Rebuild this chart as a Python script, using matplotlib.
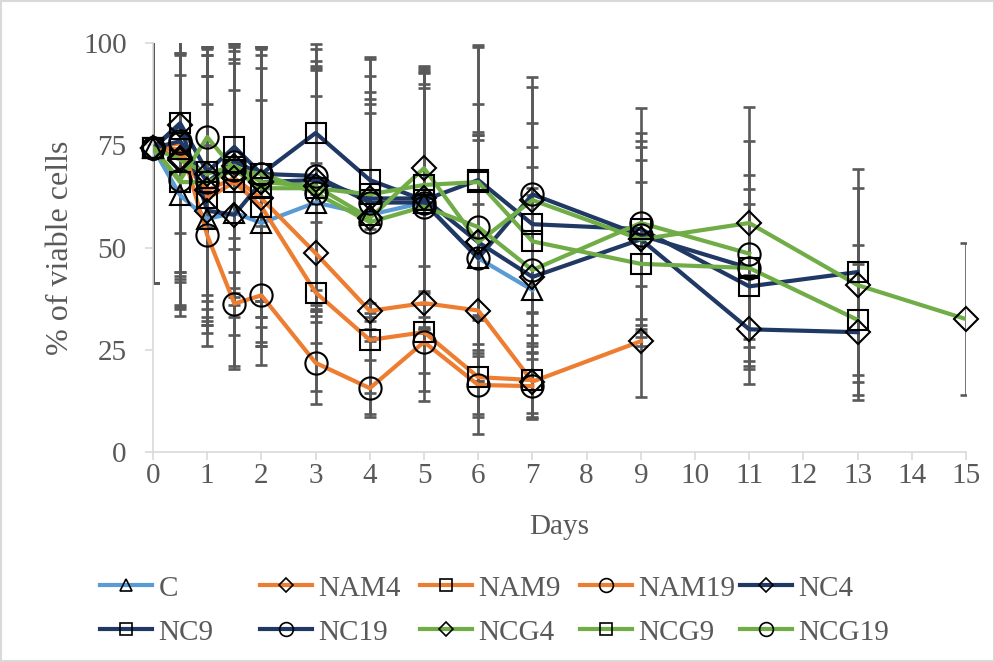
import numpy as np
import matplotlib
matplotlib.use("Agg")
import matplotlib.pyplot as plt
from matplotlib.lines import Line2D
from matplotlib.patches import Rectangle

plt.rcParams['font.family'] = ['Liberation Serif', 'DejaVu Serif']

days = [0, 0.5, 1, 1.5, 2, 3, 4, 5, 6, 7, 9, 11, 13, 15]

# mean % of viable cells, one list per treatment
C     = [74.3, 62.8, 57, 58.5, 56, 61, 58, 61, 47.4, 39.6]
NAM4  = [74.3, 72, 64, 67, 62, 48.6, 34.5, 36.4, 34.6, 17.2, 27.1]
NAM9  = [74.3, 74, 62, 66, 60, 39, 27.4, 29.3, 18.3, 17.6]
NAM19 = [74.3, 75.5, 53, 36.3, 38.3, 21.8, 15.6, 26.9, 16.4, 16.1]
NC4   = [74.3, 80, 59, 58, 66, 66.5, 62, 62, 51.3, 42.8, 52, 30, 29.3]
NC9   = [74.3, 80.4, 68.5, 74.6, 68, 78, 66.5, 61.6, 66.5, 55.7, 54.5, 40.5, 44]
NC19  = [74.3, 76, 66, 71, 68, 67.5, 61, 61, 47.4, 63, 53, 45]
NCG4  = [74.3, 71.5, 68, 70, 66, 65, 57.2, 69.4, 51.3, 61.6, 52, 56, 40.8, 32.5]
NCG9  = [74.3, 66, 66, 69, 64.5, 64.5, 63, 65.3, 66, 51.5, 46, 45, 32.3]
NCG19 = [74.3, 66.5, 77, 69, 68, 63.3, 56.2, 60, 55, 44.5, 56, 48.5]

# error bars (SD)
C_err     = [33, 29.5, 28, 30, 30, 26, 25, 28, 30, 30]
NAM4_err  = [33, 36, 33, 34, 35, 22, 20, 24, 26, 8.8, 13.6]
NAM9_err  = [33, 30, 30, 30, 34, 24, 18, 10, 14, 9]
NAM19_err = [33, 22, 22, 16, 17, 10, 7, 12, 7, 8]
NC4_err   = [33, 37, 33, 37, 33, 32, 30, 32, 25, 20, 22.6, 13.4, 16.6]
NC9_err   = [33, 38, 30, 25, 31, 21.8, 30, 31, 33, 24.7, 23.5, 20.1, 25.2]
NC19_err  = [33, 32, 33, 27, 31, 28, 27, 32, 30, 28.7, 23, 22.7]
NCG4_err  = [33, 30, 31, 30, 33, 29, 29, 24, 27, 27.6, 19.4, 28.3, 23.7, 18.5]
NCG9_err  = [33, 31, 31, 31, 34, 30, 33, 29, 33, 23, 20, 19.3, 18.3]
NCG19_err = [33, 31, 22, 30, 31, 30, 29, 30, 30, 20, 28, 27.5]

names = ['C', 'NAM4', 'NAM9', 'NAM19', 'NC4', 'NC9', 'NC19', 'NCG4', 'NCG9', 'NCG19']
values = [C, NAM4, NAM9, NAM19, NC4, NC9, NC19, NCG4, NCG9, NCG19]
errors = [C_err, NAM4_err, NAM9_err, NAM19_err, NC4_err, NC9_err, NC19_err,
          NCG4_err, NCG9_err, NCG19_err]

blue, orange, navy, green = '#5B9BD5', '#ED7D31', '#203864', '#70AD47'
colors = [blue, orange, orange, orange, navy, navy, navy, green, green, green]
markers = ['^', 'D', 's', 'o', 'D', 's', 'o', 'D', 's', 'o']
msizes = {'^': 15, 'D': 12, 's': 15, 'o': 16}
grey = '#595959'
fs = 21

fig = plt.figure(figsize=(9.95, 6.62), dpi=100)
ax = fig.add_axes([0.1538, 0.3172, 0.8171, 0.6178])

handles = []
for name, v, e, c, m in zip(names, values, errors, colors, markers):
    x = days[:len(v)]
    ax.errorbar(x, v, yerr=e, fmt='none', ecolor=grey, elinewidth=1.9,
                capsize=4.5, capthick=1.9, zorder=2)
    ax.plot(x, v, color=c, lw=3, zorder=3)
    ax.plot(x, v, ls='none', marker=m, ms=msizes[m], mfc='none', mec='black',
            mew=1.5, zorder=4, clip_on=False)
    handles.append(Line2D([], [], color=c, lw=3, marker=m, ms=msizes[m] * 0.62,
                          mfc='none', mec='black', mew=1.2, label=name))

ax.set_xlim(0, 15)
ax.set_ylim(0, 100)
ax.set_xticks(range(0, 16))
ax.set_yticks([0, 25, 50, 75, 100])
for s in ['top', 'right']:
    ax.spines[s].set_visible(False)
for s in ['left', 'bottom']:
    ax.spines[s].set_color('#D9D9D9')
    ax.spines[s].set_linewidth(1.2)
ax.tick_params(axis='both', colors='#D9D9D9', labelcolor=grey, labelsize=fs,
               length=6, width=1.2)
ax.tick_params(axis='x', pad=2)
ax.tick_params(axis='y', pad=13)
ax.set_xlabel('Days', fontsize=fs, color=grey, labelpad=18)
ax.set_ylabel('% of viable cells', fontsize=23, color=grey, labelpad=6)

# Excel-style legend: fixed column pitch, filled row by row
col_x = [0.1005, 0.2613, 0.4221, 0.5829, 0.7437]
for i, cx in enumerate(col_x):
    fig.legend(handles=[handles[i], handles[i + 5]], loc='center left',
               bbox_to_anchor=(cx, 0.078), frameon=False, fontsize=fs,
               handlelength=1.8, handletextpad=0.2, labelcolor=grey,
               borderaxespad=0, borderpad=0, labelspacing=0.6)

fig.patches.append(Rectangle((0.0015, 0.0015), 0.997, 0.997, transform=fig.transFigure,
                             fill=False, edgecolor='#D9D9D9', lw=1.5))

fig.savefig('out.png', dpi=100)
